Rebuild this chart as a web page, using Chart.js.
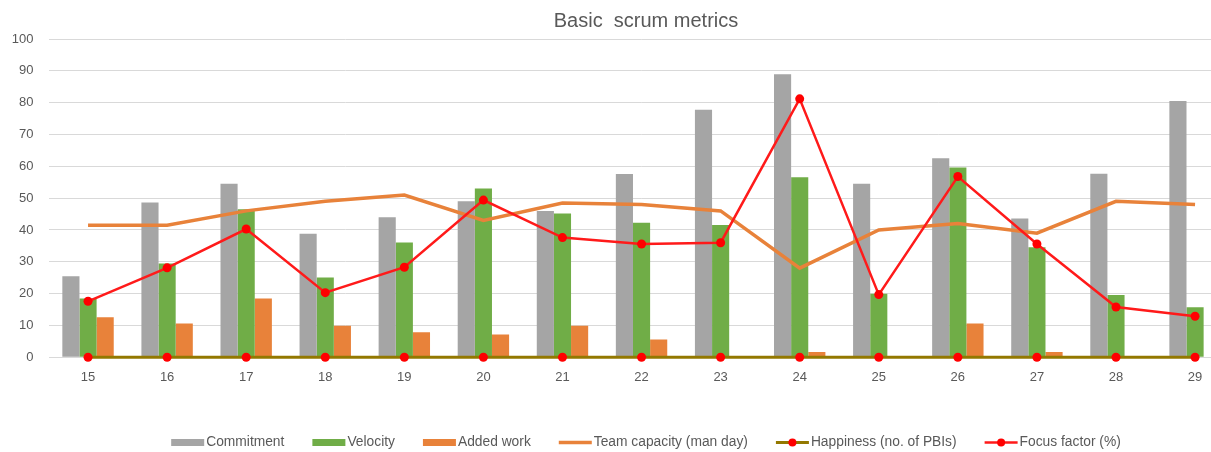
<!DOCTYPE html>
<html>
<head>
<meta charset="utf-8">
<title>Basic scrum metrics</title>
<script src="https://cdn.jsdelivr.net/npm/chart.js@4.4.1/dist/chart.umd.min.js"></script>
<style>
    html, body { margin: 0; padding: 0; background: #ffffff; overflow: hidden; }
    #wrap { width: 1292px; height: 452px; }
</style>
</head>
<body>
<div id="wrap"><canvas id="scrumChart" width="1292" height="452"></canvas></div>
<script>
// Sprint numbers on the x axis
const sprints = ['15', '16', '17', '18', '19', '20', '21', '22', '23', '24', '25', '26', '27', '28', '29'];

// Series
const commitment   = [25.5, 48.6, 54.5, 38.8, 44, 49, 46, 57.6, 77.8, 88.9, 54.5, 62.5, 43.6, 57.7, 80.5];
const velocity     = [18.5, 29.5, 46.5, 25.1, 36.1, 53, 45.2, 42.3, 41.6, 56.6, 20, 59.6, 34.6, 19.6, 15.7];
const addedWork    = [12.6, 10.6, 18.5, 9.9, 7.9, 7.2, 9.9, 5.6, 0, 1.7, 0, 10.6, 1.7, 0, 0];
const teamCapacity = [41.5, 41.5, 46, 49, 51, 43, 48.5, 48, 46, 28, 40, 42, 39, 49, 48];
const happiness    = [0, 0, 0, 0, 0, 0, 0, 0, 0, 0, 0, 0, 0, 0, 0];
const focusFactor  = [17.6, 28.1, 40.3, 20.3, 28.3, 49.4, 37.6, 35.6, 36, 81.2, 19.7, 56.8, 35.6, 15.8, 12.9];

// Y axis ticks
const yTicks = [0, 10, 20, 30, 40, 50, 60, 70, 80, 90, 100];

const FONT = '"Liberation Sans", Arial, sans-serif';
const TEXT_COLOR = '#595959';

// Legend drawn under the chart (bars as flat boxes, lines with their markers)
const bottomLegend = {
    id: 'bottomLegend',
    afterDraw(chart) {
        const ctx = chart.ctx;
        const symW = 33, symGap = 2, itemGap = 28;
        const cy = 442.5;
        ctx.save();
        ctx.font = '13.8px ' + FONT;
        ctx.textBaseline = 'middle';
        ctx.textAlign = 'left';

        const items = chart.data.datasets.map(ds => ({
            label: ds.label,
            type: ds.type,
            ds: ds,
            w: symW + symGap + ctx.measureText(ds.label).width
        }));
        const total = items.reduce((s, it) => s + it.w, 0) + itemGap * (items.length - 1);
        let x = chart.width / 2 - total / 2;

        items.forEach(it => {
            const ds = it.ds;
            if (it.type === 'bar') {
                ctx.fillStyle = ds.backgroundColor;
                ctx.fillRect(x, cy - 3.5, symW, 7);
            } else {
                ctx.strokeStyle = ds.borderColor;
                ctx.lineWidth = ds.borderWidth;
                ctx.beginPath();
                ctx.moveTo(x, cy);
                ctx.lineTo(x + symW, cy);
                ctx.stroke();
                if (ds.pointRadius > 0) {
                    ctx.fillStyle = ds.pointBackgroundColor;
                    ctx.beginPath();
                    ctx.arc(x + symW / 2, cy, 4, 0, Math.PI * 2);
                    ctx.fill();
                }
            }
            ctx.fillStyle = TEXT_COLOR;
            ctx.fillText(it.label, x + symW + symGap, cy);
            x += it.w + itemGap;
        });
        ctx.restore();
    }
};

const ctx = document.getElementById('scrumChart').getContext('2d');

new Chart(ctx, {
    data: {
        labels: sprints,
        datasets: [
            {
                type: 'bar',
                label: 'Commitment',
                data: commitment,
                backgroundColor: '#a5a5a5',
                order: 3
            },
            {
                type: 'bar',
                label: 'Velocity',
                data: velocity,
                backgroundColor: '#70ad47',
                order: 3
            },
            {
                type: 'bar',
                label: 'Added work',
                data: addedWork,
                backgroundColor: '#e8823a',
                order: 3
            },
            {
                type: 'line',
                label: 'Team capacity (man day)',
                data: teamCapacity,
                borderColor: '#e8823a',
                borderWidth: 3.5,
                pointRadius: 0,
                tension: 0,
                order: 2
            },
            {
                type: 'line',
                label: 'Happiness (no. of PBIs)',
                data: happiness,
                borderColor: '#937800',
                borderWidth: 3,
                pointRadius: 4.5,
                pointBackgroundColor: '#ff0000',
                pointBorderWidth: 0,
                tension: 0,
                clip: false,
                order: 1
            },
            {
                type: 'line',
                label: 'Focus factor (%)',
                data: focusFactor,
                borderColor: '#ff1a1a',
                borderWidth: 2.5,
                pointRadius: 4.5,
                pointBackgroundColor: '#ff0000',
                pointBorderWidth: 0,
                tension: 0,
                clip: false,
                order: 0
            }
        ]
    },
    options: {
        responsive: false,
        animation: false,
        devicePixelRatio: 1,
        layout: {
            padding: 0
        },
        datasets: {
            bar: {
                categoryPercentage: 0.65,
                barPercentage: 1
            }
        },
        plugins: {
            legend: { display: false },
            tooltip: { enabled: false },
            title: {
                display: true,
                text: 'Basic  scrum metrics',
                color: TEXT_COLOR,
                font: { family: FONT, size: 20, weight: 'normal' },
                padding: { top: 9, bottom: 6 }
            }
        },
        scales: {
            x: {
                grid: { display: false },
                border: { display: false },
                ticks: {
                    color: TEXT_COLOR,
                    font: { family: FONT, size: 13 },
                    padding: 4,
                    maxRotation: 0
                },
                afterFit(scale) { scale.height = 94.7; }
            },
            y: {
                min: 0,
                max: 100,
                afterBuildTicks(scale) {
                    scale.ticks = yTicks.map(v => ({ value: v }));
                },
                grid: { color: '#d9d9d9', lineWidth: 1, drawTicks: false },
                border: { display: false },
                ticks: {
                    color: TEXT_COLOR,
                    font: { family: FONT, size: 13 },
                    padding: 15
                },
                afterFit(scale) { scale.width = 48.5; }
            },
            yRight: {
                position: 'right',
                grid: { display: false, drawTicks: false },
                border: { display: false },
                ticks: { display: false },
                afterFit(scale) { scale.width = 57.4; }
            }
        }
    },
    plugins: [bottomLegend]
});
</script>
</body>
</html>
